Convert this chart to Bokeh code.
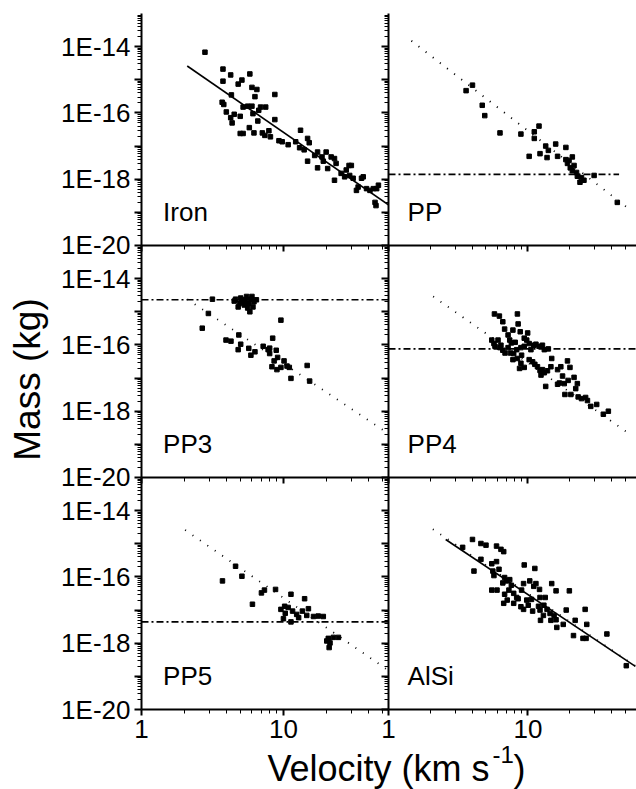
import numpy as np
from bokeh.plotting import figure
from bokeh.layouts import row, column
from bokeh.models import Range1d, FixedTicker, CustomJSTickFormatter, CustomLabelingPolicy, Label
from bokeh.core.properties import value
from bokeh.embed import file_html
from bokeh.resources import INLINE

FONT = "Liberation Sans"

# ---------------- data (velocity km/s, mass kg) ----------------
iron_v = [2.8, 3.75, 4.25, 3.75, 5.1, 4.8, 5.8, 6.0, 6.5, 6.3, 8.7, 4.3, 3.7, 3.8, 3.96, 4.25, 4.35, 4.5,
          4.96, 5.2, 5.6, 6.0, 6.1, 6.7, 6.9, 7.5, 4.96, 5.2, 5.75, 6.2, 6.6, 7.1, 7.4, 7.9, 8.1, 8.7,
          9.3, 9.8, 10.8, 12.2, 13.2, 13.0, 14.0, 14.8, 15.2, 14.8, 16.6, 17.4, 18.7, 20.0, 19.1, 17.4,
          20.5, 22.9, 21.7, 22.9, 23.5, 25.5, 27.0, 29.0, 30.1, 27.7, 29.3, 31.0, 32.7, 33.6, 36.5, 35.5,
          38.5, 40.7, 43.0, 46.7, 45.4, 44.2, 44.9]
iron_m = [6.8e-15, 2.1e-15, 1.4e-15, 9.1e-16, 9.8e-16, 7.4e-16, 1.5e-15, 5.9e-16, 5.1e-16, 3.1e-16, 3.6e-16,
          3.5e-16, 2.1e-16, 1.8e-16, 1.07e-16, 7.2e-17, 5.0e-17, 9.1e-17, 7.9e-17, 1.5e-16, 1.6e-16, 1.6e-16,
          9.5e-17, 1.2e-16, 1.5e-16, 1.5e-16, 2.4e-17, 2.4e-17, 3.6e-17, 2.5e-17, 5.7e-17, 2.5e-17, 2.1e-17,
          2.9e-17, 1.9e-17, 6.3e-17, 1.45e-17, 1.35e-17, 1.1e-17, 1.35e-17, 3.0e-17, 8.9e-18, 7.7e-18,
          1.7e-17, 1.26e-17, 3.5e-18, 5.2e-18, 6.6e-18, 4.7e-18, 6.6e-18, 3.5e-18, 2.2e-18, 2.1e-18,
          9.3e-19, 4.7e-18, 4.2e-18, 3.0e-18, 1.5e-18, 1.18e-18, 2.6e-18, 2.6e-18, 1.9e-18, 1.3e-18,
          1.07e-18, 4.6e-19, 5.8e-19, 1.18e-18, 1.07e-18, 5.2e-19, 4.6e-19, 5.2e-19, 6.6e-19, 5.2e-19,
          2.0e-19, 1.6e-19]
iron_fit_v = [2.1, 56]
iron_fit_m = [2.6e-15, 1.6e-19]

pp_v = [3.6, 4.0, 4.7, 4.9, 6.3, 8.9, 11.1, 12.0, 11.1, 10.2, 12.2, 13.4, 14.0, 13.7, 15.8, 16.3, 18.7,
        18.7, 19.2, 20.1, 21.4, 20.8, 22.3, 22.6, 24.2, 23.6, 25.2, 19.7, 29.8, 43.7, 20.8]
pp_m = [4.7e-16, 6.9e-16, 1.7e-16, 8.3e-17, 2.5e-17, 2.3e-17, 2.7e-17, 4.0e-17, 1.7e-17, 4.9e-18, 5.9e-18,
        1.0e-17, 7.4e-18, 4.5e-18, 1.15e-17, 4.9e-18, 9.1e-18, 3.9e-18, 3.0e-18, 2.2e-18, 2.6e-18, 1.8e-18,
        1.6e-18, 1.23e-18, 1.12e-18, 8.1e-19, 9.3e-19, 3.7e-18, 1.3e-18, 2.0e-19, 4.7e-18]
pp_fit_v = [1.46, 51.5]
pp_fit_m = [1.5e-14, 1.4e-19]
pp_level_v = [1, 45]
pp_level_m = [1.4e-18, 1.4e-18]

pp3_v = [2.68, 2.96, 3.16, 3.94, 4.27, 4.5, 4.8, 5.0, 5.2, 5.5, 5.7, 5.9, 5.8, 6.1, 5.6, 6.2, 5.3, 4.9,
         6.0, 5.4, 5.1, 6.45, 4.6, 4.85, 5.0, 4.8, 5.9, 6.3, 7.2, 7.8, 8.0, 8.4, 8.9, 9.1, 8.6, 8.3, 9.0,
         9.6, 10.1, 10.6, 11.0, 11.3, 14.7, 15.3, 9.6, 5.7, 8.0]
pp3_m = [3.2e-16, 8.9e-16, 2.4e-15, 1.4e-16, 1.3e-16, 2.1e-15, 1.4e-15, 2.6e-15, 2.0e-15, 2.9e-15, 1.8e-15,
         2.4e-15, 1.0e-15, 1.4e-15, 1.3e-15, 2.0e-15, 1.6e-15, 1.8e-15, 2.9e-15, 2.3e-15, 2.2e-15, 2.3e-15,
         2.4e-15, 2.0e-16, 1.05e-16, 7.2e-17, 4.9e-17, 6.2e-17, 9.1e-17, 7.2e-17, 5.5e-17, 1.6e-16, 6.9e-17,
         4.2e-17, 3.3e-17, 2.2e-17, 1.8e-17, 2.1e-17, 3.3e-17, 2.3e-17, 2.1e-17, 9.8e-18, 2.4e-17, 8.1e-18,
         5.6e-16, 7.9e-17, 8.0e-17]
pp3_fit_v = [2.1, 56]
pp3_fit_m = [2.4e-15, 2.0e-19]
pp3_level_v = [1, 55]
pp3_level_m = [2.3e-15, 2.3e-15]

pp4_v = [5.75, 6.24, 6.6, 8.4, 8.5, 7.8, 6.8, 7.2, 8.8, 9.95, 9.4, 7.4, 6.1, 5.7, 5.8, 6.3, 6.6, 6.85,
         7.2, 7.6, 8.1, 8.3, 8.9, 9.4, 9.8, 10.2, 10.5, 11.0, 11.4, 12.0, 12.7, 13.1, 14.0, 7.8, 8.4, 8.9,
         8.7, 9.4, 10.2, 10.8, 11.2, 11.7, 12.2, 12.7, 13.1, 13.8, 14.8, 14.6, 13.4, 16.3, 17.2, 19.2, 20.0,
         17.7, 16.8, 16.3, 18.2, 19.4, 21.4, 22.6, 22.0, 18.4, 20.3, 22.9, 24.2, 25.9, 26.7, 28.2, 31.1,
         34.7, 37.7, 12.4, 6.4, 7.9, 9.0, 5.5, 7.5]
pp4_m = [8.6e-16, 7.4e-16, 5.0e-16, 8.6e-16, 4.3e-16, 2.8e-16, 3.0e-16, 2.0e-16, 2.5e-16, 2.3e-16, 1.6e-16,
         1.4e-16, 1.4e-16, 1.1e-16, 9.1e-17, 8.3e-17, 6.9e-17, 5.7e-17, 8.3e-17, 1.15e-16, 1.2e-16, 7.2e-17,
         8.3e-17, 9.1e-17, 1.4e-16, 1.1e-16, 7.2e-17, 9.8e-17, 1.05e-16, 9.1e-17, 9.8e-17, 7.2e-17, 7.6e-17,
         3.6e-17, 3.9e-17, 2.8e-17, 1.95e-17, 2.1e-17, 3.6e-17, 3.1e-17, 2.6e-17, 2.2e-17, 1.7e-17, 1.8e-17,
         1.45e-17, 1.66e-17, 3.9e-17, 2.2e-17, 5.6e-18, 1.8e-17, 2.2e-17, 3.3e-17, 2.1e-17, 1.15e-17,
         7.1e-18, 6.5e-18, 6.8e-18, 8.5e-18, 1.05e-17, 6.8e-18, 4.8e-18, 3.2e-18, 3.2e-18, 2.7e-18, 2.4e-18,
         2.6e-18, 2.1e-18, 1.4e-18, 1.6e-18, 8.1e-19, 1.0e-18, 1.23e-17, 9.8e-17, 5.5e-17, 4.9e-17, 1.4e-16,
         5.7e-17]
pp4_fit_v = [2.09, 55]
pp4_fit_m = [2.9e-15, 1.9e-19]
pp4_level_v = [1, 60]
pp4_level_m = [7.6e-17, 7.6e-17]

pp5_v = [3.72, 4.6, 5.1, 6.05, 7.0, 7.35, 8.8, 11.3, 14.1, 9.6, 10.3, 10.8, 11.6, 12.4, 13.6, 15.0, 14.6,
         10.0, 11.3, 10.2, 12.8, 16.3, 17.6, 19.1, 20.2, 20.7, 22.5, 24.4, 21.3, 21.0]
pp5_m = [7.6e-17, 2.1e-16, 1.05e-16, 1.5e-17, 3.3e-17, 4.0e-17, 4.2e-17, 3.0e-17, 2.2e-17, 1.05e-17, 8.0e-18,
         1.2e-17, 9.3e-18, 7.4e-18, 9.3e-18, 1.1e-17, 6.9e-18, 5.5e-18, 4.4e-18, 1.3e-17, 5.9e-18, 6.4e-18,
         6.6e-18, 6.4e-18, 1.17e-18, 1.4e-18, 1.5e-18, 1.5e-18, 1.02e-18, 7.4e-19]
pp5_fit_v = [2.03, 55]
pp5_fit_m = [2.6e-15, 1.5e-19]
pp5_level_v = [1, 55]
pp5_level_m = [4.4e-18, 4.4e-18]

alsi_v = [4.0, 4.6, 5.0, 5.95, 6.4, 6.7, 3.4, 4.6, 4.1, 5.5, 5.95, 5.6, 5.7, 6.2, 6.8, 7.0, 7.4, 7.6, 7.3,
          6.6, 5.5, 6.0, 6.8, 7.1, 6.7, 7.9, 8.5, 9.0, 9.3, 9.4, 10.3, 11.0, 11.2, 11.4, 12.1, 12.2, 10.6,
          10.05, 9.3, 10.8, 12.2, 11.9, 13.0, 13.3, 14.8, 15.9, 19.8, 13.7, 14.4, 15.4, 12.9, 12.3, 14.6,
          15.9, 16.1, 17.9, 18.8, 21.8, 25.7, 26.4, 21.2, 24.8, 26.1, 36.8, 50.7, 7.9, 8.3, 8.9, 9.8]
alsi_m = [1.35e-15, 1.02e-15, 9.1e-16, 8.5e-16, 6.8e-16, 5.8e-16, 7.8e-16, 3.4e-16, 1.5e-16, 2.5e-16,
          2.9e-16, 1.5e-16, 1.1e-16, 1.7e-16, 9.6e-17, 7.6e-17, 8.3e-17, 5.6e-17, 4.0e-17, 6.6e-17, 4.0e-17,
          4.0e-17, 3.0e-17, 2.0e-17, 1.6e-17, 1.6e-17, 2.2e-17, 4.0e-17, 6.3e-17, 2.3e-16, 7.6e-17, 5.2e-17,
          1.8e-16, 6.3e-17, 4.2e-17, 2.4e-17, 2.1e-17, 1.4e-17, 1.05e-17, 9.3e-18, 1.0e-17, 1.3e-17, 1.4e-17,
          2.4e-17, 6.3e-17, 3.8e-17, 3.8e-17, 1.05e-17, 7.9e-18, 6.9e-18, 6.9e-18, 4.9e-18, 4.9e-18, 5.1e-18,
          3.0e-18, 3.7e-18, 1.0e-17, 4.9e-18, 1.05e-17, 3.7e-18, 1.7e-18, 1.4e-18, 1.4e-18, 1.9e-18, 2.1e-19,
          3.2e-17, 2.4e-17, 1.26e-17, 2.0e-17]
alsi_fit_v = [2.57, 58.9]
alsi_fit_m = [1.35e-15, 2.0e-19]
alsi_ext_v = [2.08, 60]
alsi_ext_m = [2.75e-15, 1.95e-19]

panel_names = ["Iron", "PP", "PP3", "PP4", "PP5", "AlSi"]
x_ticks = [1, 10]
x_minor = [2, 3, 4, 5, 6, 7, 8, 9, 20, 30, 40, 50]
y_ticks = [1e-20, 1e-19, 1e-18, 1e-17, 1e-16, 1e-15, 1e-14]
y_minor = [k * 10.0 ** e for e in range(-20, -13) for k in range(2, 10)]

STRIP = 50  # width of the strip that holds the y-axis title


# ---------------- helpers ----------------
def style_axis(ax, labels, tick_out, minor_out):
    ax.axis_line_width = 2
    ax.axis_line_color = "black"
    ax.major_tick_line_width = 2
    ax.major_tick_line_color = "black"
    ax.minor_tick_line_width = 1
    ax.minor_tick_line_color = "black"
    ax.major_tick_in = 0
    ax.minor_tick_in = 0
    ax.major_tick_out = tick_out
    ax.minor_tick_out = minor_out
    ax.major_label_text_font = FONT
    ax.major_label_text_color = "black"
    if labels:
        ax.major_label_text_font_size = "26px"
        ax.major_label_standoff = 4
    else:
        ax.major_label_text_font_size = "0px"
        ax.major_label_standoff = 0
        ax.major_label_policy = CustomLabelingPolicy(code="return [];")


def panel(col, r, name, v, m, solid=None, dotted=None, level=None):
    left = col == 0
    last = r == 2
    fw = 247 if left else 248
    bl = (141 - STRIP) if left else 15
    bt = 13 if r == 0 else 0
    bb = 45 if last else 14
    xr = Range1d(1, 55) if left else Range1d(1, 60)
    kw = {}
    if not left:
        kw["margin"] = (0, 0, 0, -15)
    p = figure(width=bl + fw, height=bt + 232 + bb, x_axis_type="log", y_axis_type="log",
               x_range=xr, y_range=Range1d(1e-20, 1e-13),
               min_border_left=bl, min_border_right=0, min_border_top=bt, min_border_bottom=bb,
               toolbar_location=None, output_backend="svg", title=None,
               outline_line_color=None, background_fill_color=None, border_fill_color=None, **kw)
    p.xgrid.visible = False
    p.ygrid.visible = False

    xa = p.xaxis[0]
    xa.ticker = FixedTicker(ticks=x_ticks, minor_ticks=x_minor)
    xa.formatter = CustomJSTickFormatter(code="return tick < 5 ? '1' : '10';")
    style_axis(xa, last, 6, 4)

    ya = p.yaxis[0]
    ya.ticker = FixedTicker(ticks=y_ticks, minor_ticks=y_minor)
    ya.formatter = CustomJSTickFormatter(code="return '1E' + Math.round(Math.log10(tick));")
    style_axis(ya, left, 7, 4)
    if left:
        ya.major_label_policy = CustomLabelingPolicy(
            code="for (const i of indices) { if (i % 2 == 0) yield i }")

    if level is not None:
        p.line(level[0], level[1], line_color="black", line_width=1.6, line_dash="7 3 2 3")
    if dotted is not None:
        p.line(dotted[0], dotted[1], line_color="black", line_width=1.8, line_dash="1 8")
    if solid is not None:
        p.line(solid[0], solid[1], line_color="black", line_width=1.6)
    p.scatter(v, m, marker="square", size=4.5, color="black")

    lx = [1.42] if left else [1.37]
    p.text(x=lx, y=[1.05e-19], text=[name], text_font=value(FONT), text_font_size="26px",
           text_color="black", text_baseline="middle", text_align="left")
    return p


p_iron = panel(0, 0, panel_names[0], iron_v, iron_m, solid=(iron_fit_v, iron_fit_m))
p_pp = panel(1, 0, panel_names[1], pp_v, pp_m, dotted=(pp_fit_v, pp_fit_m), level=(pp_level_v, pp_level_m))
p_pp3 = panel(0, 1, panel_names[2], pp3_v, pp3_m, dotted=(pp3_fit_v, pp3_fit_m), level=(pp3_level_v, pp3_level_m))
p_pp4 = panel(1, 1, panel_names[3], pp4_v, pp4_m, dotted=(pp4_fit_v, pp4_fit_m), level=(pp4_level_v, pp4_level_m))
p_pp5 = panel(0, 2, panel_names[4], pp5_v, pp5_m, dotted=(pp5_fit_v, pp5_fit_m), level=(pp5_level_v, pp5_level_m))
p_alsi = panel(1, 2, panel_names[5], alsi_v, alsi_m, solid=(alsi_fit_v, alsi_fit_m), dotted=(alsi_ext_v, alsi_ext_m))

grid = column(
    row(p_iron, p_pp),
    row(p_pp3, p_pp4, margin=(-14, 0, 0, 0)),
    row(p_pp5, p_alsi, margin=(-14, 0, 0, 0)),
)
GRID_H = 754

# strip on the left for the y-axis title
ystrip = figure(width=STRIP, height=GRID_H, x_range=Range1d(0, STRIP), y_range=Range1d(0, GRID_H),
                min_border=0, toolbar_location=None, output_backend="svg", title=None,
                x_axis_location=None, y_axis_location=None, outline_line_color=None,
                background_fill_color=None, border_fill_color=None)
ystrip.xgrid.visible = False
ystrip.ygrid.visible = False
ystrip.add_layout(Label(x=27, y=GRID_H - 379, text="Mass (kg)", angle=90, angle_units="deg",
                        text_font=FONT, text_font_size="37px", text_color="black",
                        text_align="center", text_baseline="middle"))

# strip below for the x-axis title
lab = figure(width=636, height=50, x_range=Range1d(0, 636), y_range=Range1d(0, 50),
             min_border=0, toolbar_location=None, output_backend="svg", title=None,
             x_axis_location=None, y_axis_location=None, outline_line_color=None,
             background_fill_color=None, border_fill_color=None, margin=(-15, 0, 0, 0))
lab.xgrid.visible = False
lab.ygrid.visible = False
lab.add_layout(Label(x=267, y=21, text="Velocity (km s", text_font=FONT, text_font_size="36px",
                     text_color="black", text_align="left", text_baseline="middle"))
lab.add_layout(Label(x=492, y=35, text="-1", text_font=FONT, text_font_size="24px",
                     text_color="black", text_align="left", text_baseline="middle"))
lab.add_layout(Label(x=513, y=21, text=")", text_font=FONT, text_font_size="36px",
                     text_color="black", text_align="left", text_baseline="middle"))

layout = column(row(ystrip, grid), lab)

open("out.html", "w").write(file_html(layout, INLINE))
